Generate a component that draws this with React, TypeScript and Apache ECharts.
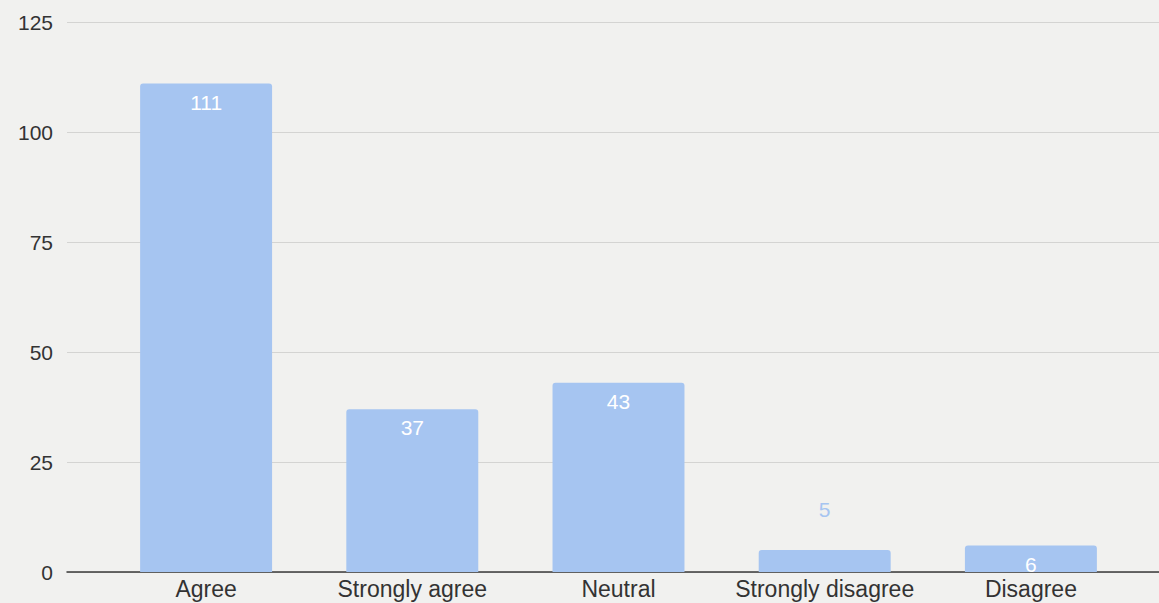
import React, { useEffect, useRef } from "react";
import * as echarts from "echarts";

const categories = ["Agree", "Strongly agree", "Neutral", "Strongly disagree", "Disagree"];
const counts = [111, 37, 43, 5, 6];
const yTicks = { min: 0, max: 125, interval: 25 };

const BAR = "#a6c5f1";
const FONT = "'Liberation Sans', Arial, sans-serif";

export default function App() {
  const ref = useRef<HTMLDivElement>(null);
  useEffect(() => {
    if (!ref.current) return;
    const chart = echarts.init(ref.current, undefined, { renderer: "svg" });
    const data = counts.map((v, i) =>
      i === 3
        ? { value: v, label: { position: "top", color: BAR, distance: 30 } }
        : v
    );
    chart.setOption({
      animation: false,
      backgroundColor: "#f1f1ef",
      textStyle: { fontFamily: FONT },
      grid: [
        { left: 67, right: 0, top: 22, bottom: 31 },
        { left: 103, right: 25, top: 22, bottom: 31 },
      ],
      xAxis: [
        {
          gridIndex: 0,
          type: "value",
          min: 0,
          max: 1,
          axisLine: { show: true, lineStyle: { color: "#3a3a3a", width: 1.5 } },
          axisTick: { show: false },
          axisLabel: { show: false },
          splitLine: { show: false },
        },
        {
          gridIndex: 1,
          type: "category",
          data: categories,
          axisLine: { show: false },
          axisTick: { show: false },
          axisLabel: {
            color: "#333",
            fontSize: 23,
            lineHeight: 23,
            margin: 5,
            fontFamily: FONT,
            interval: 0,
          },
        },
      ],
      yAxis: [
        {
          gridIndex: 0,
          type: "value",
          ...yTicks,
          axisLine: { show: false },
          axisTick: { show: false },
          axisLabel: { color: "#333", fontSize: 21, margin: 14, fontFamily: FONT },
          splitLine: { lineStyle: { color: "#d4d4d2", width: 1 } },
        },
        {
          gridIndex: 1,
          type: "value",
          ...yTicks,
          show: false,
          splitLine: { show: false },
        },
      ],
      series: [
        {
          type: "bar",
          xAxisIndex: 1,
          yAxisIndex: 1,
          data,
          barWidth: "64%",
          itemStyle: { color: BAR, borderRadius: [3, 3, 0, 0] },
          label: {
            show: true,
            position: "insideTop",
            distance: 8,
            color: "#ffffff",
            fontSize: 21,
            fontFamily: FONT,
          },
        },
      ],
    });
    return () => chart.dispose();
  }, []);
  return (
    <div
      ref={ref}
      style={{ position: "fixed", left: 0, top: 0, width: 1159, height: 603 }}
    />
  );
}
